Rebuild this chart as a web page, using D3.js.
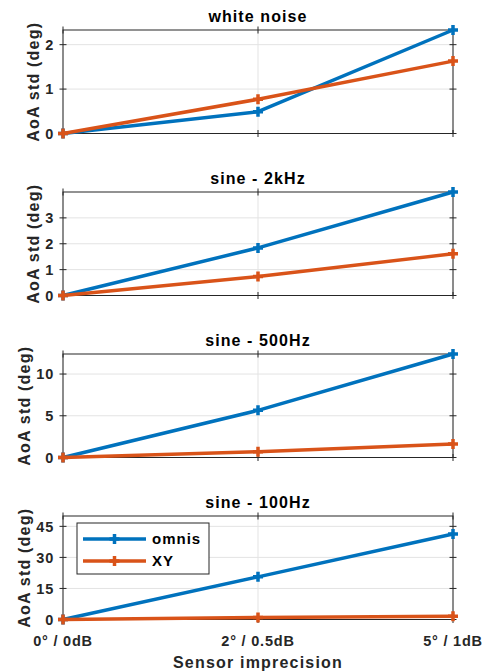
<!DOCTYPE html>
<html><head><meta charset="utf-8">
<script src="https://cdn.jsdelivr.net/npm/d3@7"></script>
<style>
html,body{margin:0;padding:0;background:#fff;}
text{font-family:"Liberation Sans",Arial,Helvetica,sans-serif;}
</style></head>
<body><svg id="c" width="490" height="672"></svg>
<script>
const categories = ["0° / 0dB", "2° / 0.5dB", "5° / 1dB"];
const titles = ["white noise", "sine - 2kHz", "sine - 500Hz", "sine - 100Hz"];
const omnis = [[0, 0.49, 2.33], [0, 1.84, 4.0], [0, 5.65, 12.4], [0, 20.6, 41.3]];
const xy = [[0, 0.77, 1.63], [0, 0.73, 1.61], [0, 0.69, 1.62], [0, 1.0, 1.6]];
const yLimits = [2.33, 4.0, 12.4, 50];
const yTicks = [[0, 1, 2], [0, 1, 2, 3], [0, 5, 10], [0, 15, 30, 45]];
const seriesNames = ["omnis", "XY"];
const colors = ["#0072BD", "#D95319"];

const svg = d3.select("#c");
const left = 63, right = 453, h = 103.5, tops = [30, 192, 354, 516];
const axisColor = "#262626";
const x = d3.scalePoint().domain(categories).range([left, right]);
const tk = 3.5;

const plus = "M-5,0H5M0,-5V5";

titles.forEach((t, i) => {
  const top = tops[i], bot = top + h;
  const y = d3.scaleLinear().domain([0, yLimits[i]]).range([bot, top]);
  const g = svg.append("g");
  // grid
  g.selectAll(".gy").data(yTicks[i]).join("line")
    .attr("x1", left).attr("x2", right).attr("y1", d => y(d)).attr("y2", d => y(d))
    .attr("stroke", "#e3e3e3").attr("stroke-width", 1);
  g.selectAll(".gx").data(categories).join("line")
    .attr("x1", d => x(d)).attr("x2", d => x(d)).attr("y1", top).attr("y2", bot)
    .attr("stroke", "#e3e3e3").attr("stroke-width", 1);
  // box
  g.append("rect").attr("x", left).attr("y", top).attr("width", right - left).attr("height", h)
    .attr("fill", "none").attr("stroke", axisColor).attr("stroke-width", 1);
  // y ticks both sides
  [left, right].forEach(ax => {
    g.selectAll(null).data(yTicks[i]).join("line")
      .attr("x1", ax - tk).attr("x2", ax + tk).attr("y1", d => y(d)).attr("y2", d => y(d))
      .attr("stroke", axisColor).attr("stroke-width", 1);
  });
  [top, bot].forEach(ay => {
    g.selectAll(null).data(categories).join("line")
      .attr("x1", d => x(d)).attr("x2", d => x(d)).attr("y1", ay - tk).attr("y2", ay + tk)
      .attr("stroke", axisColor).attr("stroke-width", 1);
  });
  // y tick labels
  const yl = g.selectAll(".yl").data(yTicks[i]).join("text")
    .attr("x", left - 9).attr("y", d => y(d)).attr("dy", "0.36em")
    .attr("text-anchor", "end").attr("font-size", 14.5).attr("font-weight", "bold")
    .attr("letter-spacing", 0.8).attr("fill", axisColor).text(d => d);
  let minX = left;
  yl.each(function() { const b = this.getBBox(); minX = Math.min(minX, b.x); });
  // y label
  g.append("text").attr("transform", `translate(${minX - 6},${(top + bot) / 2}) rotate(-90)`)
    .attr("text-anchor", "middle").attr("font-size", 16).attr("font-weight", "bold")
    .attr("letter-spacing", 1.2).attr("fill", axisColor).text("AoA std (deg)");
  // title
  g.append("text").attr("x", (left + right) / 2).attr("y", top - 8.5)
    .attr("text-anchor", "middle").attr("font-size", 16).attr("font-weight", "bold")
    .attr("letter-spacing", 1.1).attr("fill", "#000").text(t);
  // series
  [omnis[i], xy[i]].forEach((vals, s) => {
    const line = d3.line().x((d, j) => x(categories[j])).y(d => y(d));
    g.append("path").attr("d", line(vals)).attr("fill", "none")
      .attr("stroke", colors[s]).attr("stroke-width", 3.5).attr("stroke-linejoin", "round");
    g.selectAll(null).data(vals).join("path")
      .attr("transform", (d, j) => `translate(${x(categories[j])},${y(d)})`)
      .attr("d", plus).attr("stroke", colors[s]).attr("stroke-width", 3.5).attr("fill", "none");
  });
  if (i === titles.length - 1) {
    g.selectAll(".xl").data(categories).join("text")
      .attr("x", d => x(d)).attr("y", bot + 26.5).attr("text-anchor", "middle")
      .attr("font-size", 14.5).attr("font-weight", "bold").attr("letter-spacing", 0.8)
      .attr("fill", axisColor).text(d => d);
    g.append("text").attr("x", (left + right) / 2).attr("y", bot + 48.5)
      .attr("text-anchor", "middle").attr("font-size", 16).attr("font-weight", "bold")
      .attr("letter-spacing", 1.2).attr("fill", axisColor).text("Sensor imprecision");
    // legend
    const lg = g.append("g");
    lg.append("rect").attr("x", 77).attr("y", 523).attr("width", 132).attr("height", 51)
      .attr("fill", "#fff").attr("stroke", axisColor).attr("stroke-width", 1);
    seriesNames.forEach((n, s) => {
      const ly = 539 + s * 22;
      lg.append("line").attr("x1", 83).attr("x2", 146).attr("y1", ly).attr("y2", ly)
        .attr("stroke", colors[s]).attr("stroke-width", 3.5);
      lg.append("path").attr("transform", `translate(114.5,${ly})`).attr("d", plus)
        .attr("stroke", colors[s]).attr("stroke-width", 3.5);
      lg.append("text").attr("x", 152).attr("y", ly).attr("dy", "0.36em")
        .attr("font-size", 15).attr("font-weight", "bold").attr("letter-spacing", 1)
        .attr("fill", "#000").text(n);
    });
  }
});
</script></body></html>
